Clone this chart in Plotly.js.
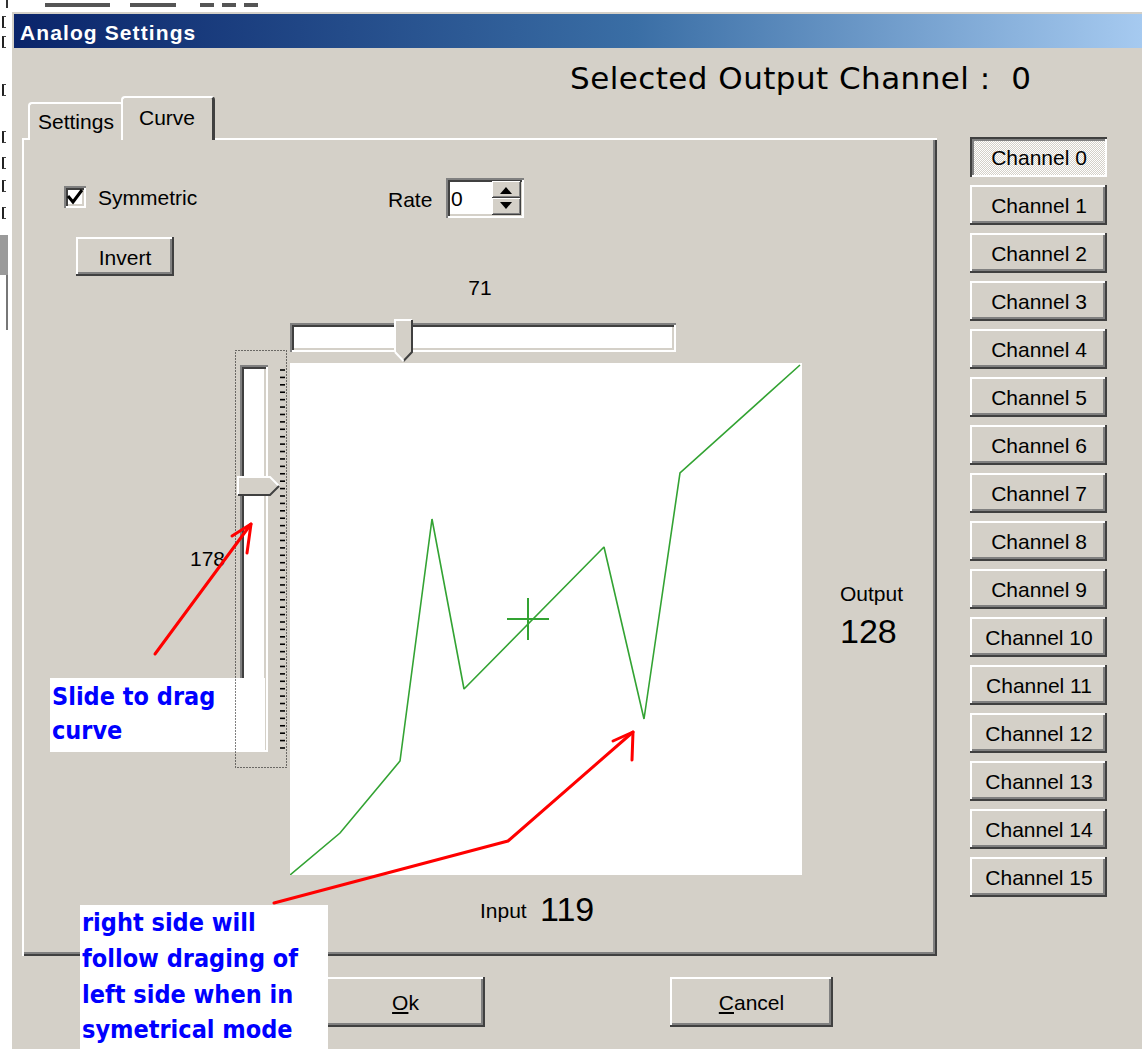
<!DOCTYPE html>
<html><head><meta charset="utf-8">
<script src="https://cdn.plot.ly/plotly-3.0.1.min.js"></script>
<style>
html,body{margin:0;padding:0;}
body{width:1142px;height:1049px;position:relative;overflow:hidden;background:#fff;font-family:"Liberation Sans",Arial,sans-serif;}
.abs{position:absolute;box-sizing:border-box;}
.t{position:absolute;white-space:nowrap;color:#000;}
.raised{background:#d4d0c8;box-shadow:inset -2px -2px #404040, inset 2px 2px #fff, inset -4px -4px #808080;}
.raised2{background:#d4d0c8;box-shadow:inset -1px -1px #404040, inset 1px 1px #fff, inset -2px -2px #808080;}
.pressed{background-color:#d4d0c8;background-image:repeating-conic-gradient(#ffffff 0 25%, #d4d0c8 0 50%);background-size:2px 2px;box-shadow:inset 2px 2px #404040, inset -2px -2px #fff, inset 4px 4px #808080;}
.sunken{background:#fff;box-shadow:inset 2px 2px #808080, inset -2px -2px #fff, inset 4px 4px #404040, inset -4px -4px #d4d0c8;}
#chrome{position:absolute;left:0;top:0;width:1142px;height:1049px;z-index:1;}
#chart{position:absolute;left:290px;top:363px;width:512px;height:512px;z-index:2;}
#notes{position:absolute;left:0;top:0;width:1142px;height:1049px;z-index:3;}
#ov{position:absolute;left:0;top:0;z-index:4;}
</style></head><body>
<div id="chrome"></div>
<div id="chart"></div>
<div id="notes"></div>
<svg id="ov" width="1142" height="1049" xmlns="http://www.w3.org/2000/svg"></svg>
<script>
// ---- data ----
const inputValues  = [0, 25, 55, 71, 87, 157, 177, 195, 255];
const outputValues = [0, 21, 57, 178, 93, 164, 78, 201, 255];
const cursorInput  = [119];
const cursorOutput = [128];
const horizontalSliderValue = 71;
const verticalSliderValue = 178;
const selectedChannel = 0;
const rateValue = 0;
const channelLabels = ["Channel 0","Channel 1","Channel 2","Channel 3","Channel 4","Channel 5","Channel 6","Channel 7","Channel 8","Channel 9","Channel 10","Channel 11","Channel 12","Channel 13","Channel 14","Channel 15"];
const tabLabels = ["Settings", "Curve"];
const noteLines1 = ["Slide to drag", "curve"];
const noteLines2 = ["right side will", "follow draging of", "left side when in", "symetrical mode"];

// ---- helpers ----
const chrome = document.getElementById('chrome');
const notes = document.getElementById('notes');
function box(x,y,w,h,cls,style,parent){const d=document.createElement('div');d.className='abs '+(cls||'');Object.assign(d.style,{left:x+'px',top:y+'px',width:w+'px',height:h+'px'},style||{});(parent||chrome).appendChild(d);return d;}
function text(x,yc,str,size,opt){opt=opt||{};const d=document.createElement('div');d.className='t';const lh=size*1.2;d.style.fontSize=size+'px';d.style.lineHeight=lh+'px';d.style.top=(yc-0.59*size)+'px';
  if(opt.center!==undefined){d.style.left=(opt.center-200)+'px';d.style.width='400px';d.style.textAlign='center';}else d.style.left=x+'px';
  if(opt.font)d.style.fontFamily=opt.font; if(opt.color)d.style.color=opt.color; if(opt.weight)d.style.fontWeight=opt.weight; if(opt.ls)d.style.letterSpacing=opt.ls+'px'; if(opt.stretch)d.style.fontStretch=opt.stretch;
  d.innerHTML=str;(opt.parent||chrome).appendChild(d);return d;}
const svg=document.getElementById('ov');const NS='http://www.w3.org/2000/svg';
function el(tag,attrs){const e=document.createElementNS(NS,tag);for(const k in attrs)e.setAttribute(k,attrs[k]);svg.appendChild(e);return e;}

// ---- outer screen fragments (cut-off glyph bits of the window behind) ----
box(0,0,1142,1049,'',{background:'#fff'});
const frag=[[45,110],[130,176],[200,214],[222,236],[244,258]];
frag.forEach(f=>box(f[0],3,f[1]-f[0],4,'',{background:'#555'}));
box(6,0,2,8,'',{background:'#333'});
[[16,12],[36,12],[84,12],[131,12],[157,12],[180,12],[207,12]].forEach(c=>box(2,c[0],4,c[1],'',{borderLeft:'2px solid #222',borderTop:'1px solid #444',borderBottom:'1px solid #444'}));
box(0,235,8,40,'',{background:'#9a9a9a'});
box(6,275,2,55,'',{background:'#777'});

// ---- dialog frame ----
box(10,10,1132,1039,'',{background:'#d4d0c8',boxShadow:'inset 2px 2px #fff'});
box(14,14,1128,34,'',{background:'linear-gradient(to right,#0a246a 0%,#3a6ea5 55%,#a6caf0 100%)'});
text(20,32.5,'Analog Settings',21,{weight:'bold',color:'#fff',ls:1.1});
text(570,78,'Selected Output Channel :&nbsp; '+selectedChannel,31,{font:'"DejaVu Sans",sans-serif',ls:0.45});

// ---- tab control ----
box(22,138,915,818,'',{background:'#d4d0c8',boxShadow:'inset 2px 2px #fff, inset -2px -2px #404040, inset -4px -4px #808080'});
box(28,102,96,38,'',{background:'#d4d0c8',borderTop:'2px solid #fff',borderLeft:'2px solid #fff',borderRight:'2px solid #404040',borderRadius:'4px 4px 0 0'});
box(121,96,94,44,'',{background:'#d4d0c8',borderTop:'2px solid #fff',borderLeft:'2px solid #fff',borderRight:'3px solid #404040',borderRadius:'4px 4px 0 0'});
text(38,121,tabLabels[0],21);
text(139,117,tabLabels[1],21);

// ---- controls ----
box(64,186,22,22,'sunken');
text(98,197,'Symmetric',21);
text(388,199,'Rate',21);
box(446,178,78,40,'sunken');
text(451,198,String(rateValue),21);
box(492,181,29,17,'raised2');
box(492,198,29,17,'raised2');
box(76,237,98,39,'raised');
text(0,257,'Invert',21,{center:125});
text(0,287,String(horizontalSliderValue),21,{center:480});
box(290,323,386,29,'sunken');
box(240,365,28,387,'sunken');
text(190,558,String(verticalSliderValue),21);
text(840,593,'Output',21);
text(840,631,String(cursorOutput[0]),34);
text(480,910,'Input',21);
text(540,909,String(cursorInput[0]),34);

// channel buttons
channelLabels.forEach((lab,i)=>{const y=137+48*i;box(970,y,137,40,i===selectedChannel?'pressed':'raised');text(0,y+20,lab,21,{center:1039});});

// ok / cancel
box(326,977,159,50,'raised');
text(0,1002,'<u>O</u>k',21,{center:405.5});
box(670,977,163,50,'raised');
text(0,1002,'<u>C</u>ancel',21,{center:751.5});

// ---- notes ----
const nf='"DejaVu Sans Condensed","DejaVu Sans",sans-serif';
box(50,678,215,74,'',{background:'#fff'},notes);
[697,731].forEach((y,i)=>text(52,y,noteLines1[i],25,{parent:notes,font:nf,weight:'bold',color:'#0000ff',stretch:'condensed'}));
box(80,905,248,144,'',{background:'#fff'},notes);
[923,959,995,1030].forEach((y,i)=>text(82,y,noteLines2[i],25,{parent:notes,font:nf,weight:'bold',color:'#0000ff',stretch:'condensed'}));

// ---- svg chrome details ----
el('polyline',{points:'68,196 73,202 82,190',fill:'none',stroke:'#000','stroke-width':3});
el('polygon',{points:'500,194 512,194 506,187',fill:'#000'});
el('polygon',{points:'500,202 512,202 506,209',fill:'#000'});
el('polygon',{points:'395,320 412,320 412,352 403.5,361 395,352',fill:'#d4d0c8'});
el('polyline',{points:'395,352 395,320 412,320',fill:'none',stroke:'#fff','stroke-width':2});
el('polyline',{points:'412,320 412,352 403.5,361',fill:'none',stroke:'#404040','stroke-width':2});
el('line',{x1:395,y1:352,x2:403.5,y2:361,stroke:'#fff','stroke-width':2});
el('polygon',{points:'238,477 270,477 279,486 270,495 238,495',fill:'#d4d0c8'});
el('polyline',{points:'238,495 238,477 270,477 279,486',fill:'none',stroke:'#fff','stroke-width':2});
el('polyline',{points:'279,486 270,495 238,495',fill:'none',stroke:'#404040','stroke-width':2});
el('rect',{x:235.5,y:350.5,width:51,height:417,fill:'none',stroke:'#000','stroke-width':1,'stroke-dasharray':'1,2'});
for(let k=0;k<52;k++){const y=370+k*(378/51);el('line',{x1:280,y1:y,x2:285,y2:y,stroke:'#000','stroke-width':1.6});}
const red={fill:'none',stroke:'#ff0000','stroke-width':3,'stroke-linecap':'round','stroke-linejoin':'round'};
el('polyline',Object.assign({points:'155,654 251,524'},red));
el('polyline',Object.assign({points:'232,536 251,524 247,553'},red));
el('polyline',Object.assign({points:'274,903 508,841 633,732'},red));
el('polyline',Object.assign({points:'613,741 633,732 632,760'},red));

// ---- chart ----
const green='#33a333';
Plotly.newPlot('chart',[
  {x:inputValues,y:outputValues,type:'scatter',mode:'lines',line:{color:green,width:1.6},hoverinfo:'skip'},
  {x:cursorInput,y:cursorOutput,type:'scatter',mode:'markers',marker:{symbol:'cross-thin',size:30,color:green,line:{color:green,width:2}},hoverinfo:'skip'}
],{
  width:512,height:512,margin:{l:0,r:0,t:0,b:0,pad:0},
  paper_bgcolor:'#fff',plot_bgcolor:'#fff',showlegend:false,
  xaxis:{range:[0,256],visible:false,fixedrange:true},
  yaxis:{range:[0,256],visible:false,fixedrange:true}
},{staticPlot:true,displayModeBar:false});
</script>
</body></html>
